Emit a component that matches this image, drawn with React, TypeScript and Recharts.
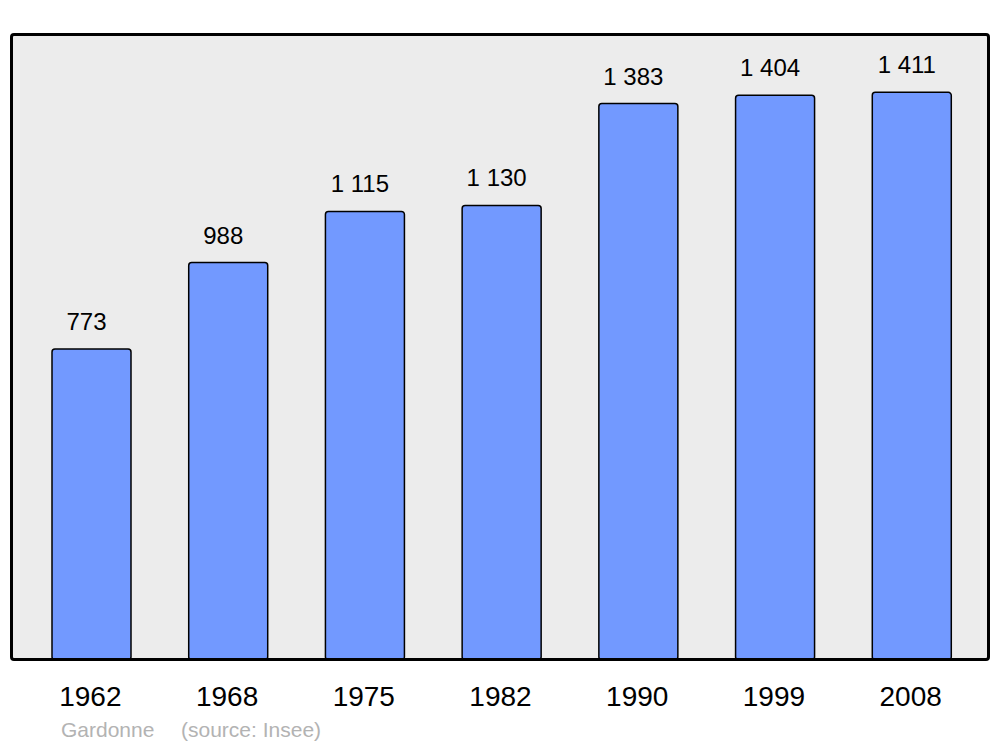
import React from 'react';
import { BarChart, Bar, XAxis, YAxis, CartesianGrid, LabelList } from 'recharts';

const years = ['1962', '1968', '1975', '1982', '1990', '1999', '2008'];
const population = [773, 988, 1115, 1130, 1383, 1404, 1411];
const commune = 'Gardonne';
const source = '(source: Insee)';

const data = years.map((year, i) => ({ year, value: population[i] }));

const fmt = (v: number) => String(v).replace(/\B(?=(\d{3})+(?!\d))/g, ' ');

const font = '"Liberation Sans", Arial, sans-serif';

const ValueLabel = (props: any) => {
  const { x, y, width, value } = props;
  return (
    <text
      x={x + width / 2 - 5}
      y={y - 19}
      textAnchor="middle"
      fontSize={24}
      fontFamily={font}
      fill="#000"
    >
      {fmt(value)}
    </text>
  );
};

const App: React.FC = () => {
  return (
    <div style={{ position: 'absolute', left: 0, top: 0, width: 1000, height: 747, background: '#fff' }}>
      <BarChart
        width={1000}
        height={747}
        data={data}
        margin={{ top: 34, right: 11, left: 11, bottom: 0 }}
      >
        <CartesianGrid fill="#ececec" stroke="none" />
        <XAxis
          dataKey="year"
          height={87}
          axisLine={false}
          tickLine={false}
          tickSize={0}
          tickMargin={26}
          padding={{ left: 12, right: 9 }}
          tick={{ fill: '#000', fontSize: 28, fontFamily: font, dx: -1 }}
          interval={0}
        />
        <YAxis hide domain={[0, 1556]} />
        <Bar
          dataKey="value"
          fill="#7299ff"
          stroke="#000"
          strokeWidth={1.5}
          barSize={79}
          radius={3}
          isAnimationActive={false}
        >
          <LabelList dataKey="value" content={ValueLabel} />
        </Bar>
      </BarChart>
      <div
        style={{
          position: 'absolute',
          left: 10,
          top: 33,
          width: 980,
          height: 628,
          boxSizing: 'border-box',
          border: '3px solid #000',
          borderRadius: 4,
          pointerEvents: 'none',
        }}
      />
      <div
        style={{
          position: 'absolute',
          left: 61,
          top: 718,
          fontFamily: font,
          fontSize: 21,
          color: '#b3b3b3',
          whiteSpace: 'pre',
        }}
      >
        {commune}
      </div>
      <div
        style={{
          position: 'absolute',
          left: 181,
          top: 718,
          fontFamily: font,
          fontSize: 21,
          color: '#b3b3b3',
          whiteSpace: 'pre',
        }}
      >
        {source}
      </div>
    </div>
  );
};

export default App;
